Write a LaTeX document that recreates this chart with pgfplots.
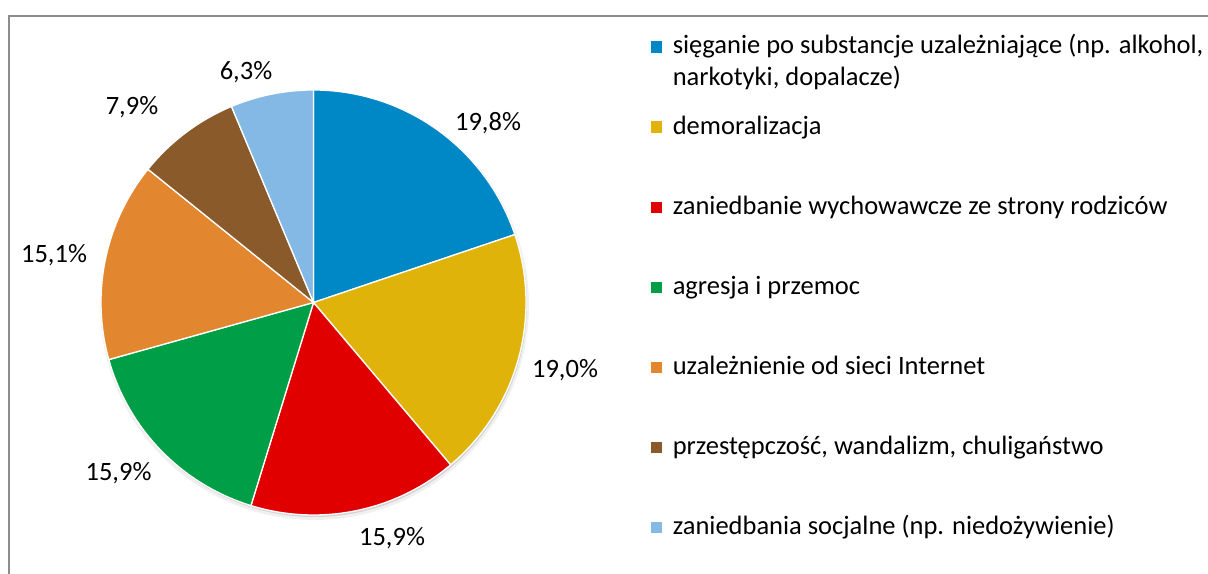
\documentclass[border=0pt]{standalone}
\usepackage{pgfplots}
\pgfplotsset{compat=1.18}
\usepackage{fontspec}
\setmainfont{Carlito}
\definecolor{cA}{HTML}{0088C6}
\definecolor{cB}{HTML}{E0B30A}
\definecolor{cC}{HTML}{E10000}
\definecolor{cD}{HTML}{009E47}
\definecolor{cE}{HTML}{E2872F}
\definecolor{cF}{HTML}{8B5A2B}
\definecolor{cG}{HTML}{85B9E5}
% shares in percent
\def\vA{19.8}\def\vB{19.0}\def\vC{15.9}\def\vD{15.9}\def\vE{15.1}\def\vF{7.9}\def\vG{6.3}
\pgfmathsetmacro{\tot}{\vA+\vB+\vC+\vD+\vE+\vF+\vG}
\pgfmathsetmacro{\k}{360/\tot}
\pgfmathsetmacro{\aA}{90}
\pgfmathsetmacro{\aB}{\aA-\vA*\k}
\pgfmathsetmacro{\aC}{\aB-\vB*\k}
\pgfmathsetmacro{\aD}{\aC-\vC*\k}
\pgfmathsetmacro{\aE}{\aD-\vD*\k}
\pgfmathsetmacro{\aF}{\aE-\vE*\k}
\pgfmathsetmacro{\aG}{\aF-\vF*\k}
\pgfmathsetmacro{\aH}{\aG-\vG*\k}
\def\cx{313.5}\def\cy{271.5}\def\R{212.5}
\begin{document}
\fontsize{26.5bp}{31.6bp}\selectfont
\begin{tikzpicture}
\useasboundingbox (0,0) rectangle (1208bp,574bp);
\begin{axis}[
  scale only axis, width=1208bp, height=574bp,
  xmin=0, xmax=1208, ymin=0, ymax=574,
  hide axis, clip=false,
  legend image code/.code={\path[draw=none,fill=none] (0bp,-40.1bp) -- (0bp,40bp);\fill[#1,draw=none] (0bp,1.3bp) rectangle (11.3bp,12.6bp);},
  legend style={at={(axis cs:651,560)}, anchor=north west, draw=none, fill=none,
    inner sep=0pt, outer sep=0pt, row sep=0pt, column sep=8.5bp,
    cells={anchor=base west, inner sep=0pt, outer sep=0pt}},
]
% frame
\draw[color=black!45, line width=1.3bp] (axis cs:9,0) -- (axis cs:9,558) -- (axis cs:1208,558);
% shadow
\addplot[forget plot, draw=none, fill=black, fill opacity=0.06, domain=0:360, samples=150]
  ({\cx+1+(\R+2)*cos(x)},{\cy-3+(\R+2)*sin(x)}) -- cycle;
\addplot[forget plot, draw=none, fill=black, fill opacity=0.12, domain=0:360, samples=150]
  ({\cx+1+\R*cos(x)},{\cy-2+\R*sin(x)}) -- cycle;
% slices
\addplot[fill=cA, draw=white, line width=1.3bp, domain=\aB:\aA, samples=80]
  ({\cx+\R*cos(x)},{\cy+\R*sin(x)}) -- (axis cs:\cx,\cy) -- cycle;
\addlegendentry{\parbox[t]{560bp}{\baselineskip=31.6bp sięganie po substancje uzależniające (np. alkohol,\\narkotyki, dopalacze)}}
\addplot[fill=cB, draw=white, line width=1.3bp, domain=\aC:\aB, samples=80]
  ({\cx+\R*cos(x)},{\cy+\R*sin(x)}) -- (axis cs:\cx,\cy) -- cycle;
\addlegendentry{demoralizacja}
\addplot[fill=cC, draw=white, line width=1.3bp, domain=\aD:\aC, samples=80]
  ({\cx+\R*cos(x)},{\cy+\R*sin(x)}) -- (axis cs:\cx,\cy) -- cycle;
\addlegendentry{zaniedbanie wychowawcze ze strony rodziców}
\addplot[fill=cD, draw=white, line width=1.3bp, domain=\aE:\aD, samples=80]
  ({\cx+\R*cos(x)},{\cy+\R*sin(x)}) -- (axis cs:\cx,\cy) -- cycle;
\addlegendentry{agresja i przemoc}
\addplot[fill=cE, draw=white, line width=1.3bp, domain=\aF:\aE, samples=80]
  ({\cx+\R*cos(x)},{\cy+\R*sin(x)}) -- (axis cs:\cx,\cy) -- cycle;
\addlegendentry{uzależnienie od sieci Internet}
\addplot[fill=cF, draw=white, line width=1.3bp, domain=\aG:\aF, samples=80]
  ({\cx+\R*cos(x)},{\cy+\R*sin(x)}) -- (axis cs:\cx,\cy) -- cycle;
\addlegendentry{przestępczość, wandalizm, chuligaństwo}
\addplot[fill=cG, draw=white, line width=1.3bp, domain=\aH:\aG, samples=80]
  ({\cx+\R*cos(x)},{\cy+\R*sin(x)}) -- (axis cs:\cx,\cy) -- cycle;
\addlegendentry{zaniedbania socjalne (np. niedożywienie)}
% value labels
\node[anchor=base, inner sep=0pt] at (axis cs:488,443) {19,8\%};
\node[anchor=base, inner sep=0pt] at (axis cs:565,196) {19,0\%};
\node[anchor=base, inner sep=0pt] at (axis cs:392,29) {15,9\%};
\node[anchor=base, inner sep=0pt] at (axis cs:118.5,93) {15,9\%};
\node[anchor=base, inner sep=0pt] at (axis cs:54,311) {15,1\%};
\node[anchor=base, inner sep=0pt] at (axis cs:132,459) {7,9\%};
\node[anchor=base, inner sep=0pt] at (axis cs:246,494) {6,3\%};
\end{axis}
\end{tikzpicture}
\end{document}
